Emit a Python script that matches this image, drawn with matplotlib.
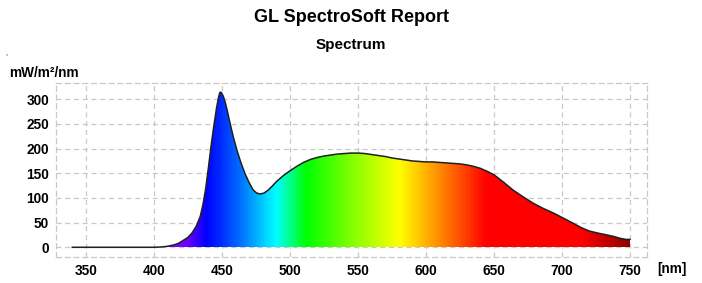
import matplotlib
matplotlib.use("Agg")
import matplotlib.pyplot as plt
import numpy as np
from matplotlib.colors import LinearSegmentedColormap

plt.rcParams['font.family'] = ['Liberation Sans', 'DejaVu Sans']

# spectrum (nm, mW/m2/nm)
wavelength = [340, 380, 400, 405, 410, 415, 418, 421, 425, 428, 431, 434, 436, 438,
              440, 442, 444, 446, 447.5, 448.5, 449.5, 451, 452.5, 454, 456, 458.5,
              461, 464, 467, 470, 473, 475.5, 478, 481, 484, 487, 490, 495, 500,
              505, 510, 515, 520, 525, 530, 535, 540, 545, 550, 555, 560, 565, 570,
              575, 580, 585, 590, 595, 600, 605, 610, 615, 620, 625, 630, 635, 640,
              645, 650, 657, 664, 671, 679, 686, 694, 701, 708, 714, 720, 726, 733,
              738, 743, 747, 750]
irradiance = [0, 0, 0, 0.5, 2, 5, 8, 13, 20, 29, 42, 62, 86, 118,
              160, 205, 245, 282, 304, 314, 314, 306, 293, 276, 251, 222,
              197, 171, 149, 131, 116, 110, 108, 110, 116, 124, 133, 145, 155,
              164, 172, 178, 182, 185, 187, 189, 190, 191, 191, 190, 188, 186, 184,
              181, 179, 177, 175, 174, 173, 173, 172, 171, 170, 169, 167, 164, 160,
              154, 147, 132, 116, 103, 89, 79, 69, 59, 49, 40, 33, 29, 25,
              22, 18, 16, 16]

x_ticks = [350, 400, 450, 500, 550, 600, 650, 700, 750]
y_ticks = [0, 50, 100, 150, 200, 250, 300]

# colour of the fill along the wavelength axis
color_nm = [340, 412, 424, 438, 450, 465, 478, 490, 505, 512, 545, 581, 605, 625, 645, 715, 750]
color_hex = ['#8000ff', '#8c00ff', '#7000ff', '#0000ff', '#0030ff', '#0078ff', '#00c0ff',
             '#00ffff', '#00ff50', '#00ff00', '#80ff00', '#ffff00', '#ffa000', '#ff5000',
             '#ff0000', '#ff0000', '#8c0000']

fig = plt.figure(figsize=(7.02, 2.83), dpi=100)
ax = fig.add_axes([56 / 702, 26 / 283, 591 / 702, 174 / 283])

x = np.array(wavelength, float)
y = np.array(irradiance, float)

lo, hi = 340, 750
pos = [(c - lo) / (hi - lo) for c in color_nm]
cmap = LinearSegmentedColormap.from_list('spec', list(zip(pos, color_hex)))
grad = np.linspace(0, 1, 800).reshape(1, -1)
im = ax.imshow(grad, cmap=cmap, aspect='auto', extent=[lo, hi, 0, 320], zorder=2)
poly = ax.fill_between(x, 0, y, facecolor='none', edgecolor='none')
clip = poly.get_paths()[0]
im.set_clip_path(clip, transform=ax.transData)
ax.plot(x, y, color='#202020', lw=1.1, zorder=3)

ax.set_xlim(328, 762.5)
ax.set_ylim(-19.7, 333)
ax.set_xticks(x_ticks)
ax.set_yticks(y_ticks)
ax.tick_params(length=0, labelsize=9.8, pad=5)
for lab in ax.get_xticklabels() + ax.get_yticklabels():
    lab.set_fontweight('bold')
ax.grid(True, color='#c8c8c8', ls=(0, (4, 3)), lw=0.9, zorder=1)
for s in ax.spines.values():
    s.set_color('#c8c8c8')
    s.set_linestyle((0, (4, 3)))
    s.set_linewidth(0.9)

fig.text(0.5, 1 - 17 / 283, 'GL SpectroSoft Report', ha='center', va='center',
         fontsize=13, fontweight='bold')
fig.text(0.5, 1 - 45 / 283, 'Spectrum', ha='center', va='center',
         fontsize=11, fontweight='bold')
fig.text(9 / 702, 1 - 73 / 283, 'mW/m²/nm', ha='left', va='center',
         fontsize=9.8, fontweight='bold')
fig.text(657 / 702, 1 - 269 / 283, '[nm]', ha='left', va='center',
         fontsize=9.8, fontweight='bold')
fig.text(5 / 702, 1 - 54 / 283, ',', ha='left', va='center', fontsize=5)

fig.savefig('out.png', dpi=100)
